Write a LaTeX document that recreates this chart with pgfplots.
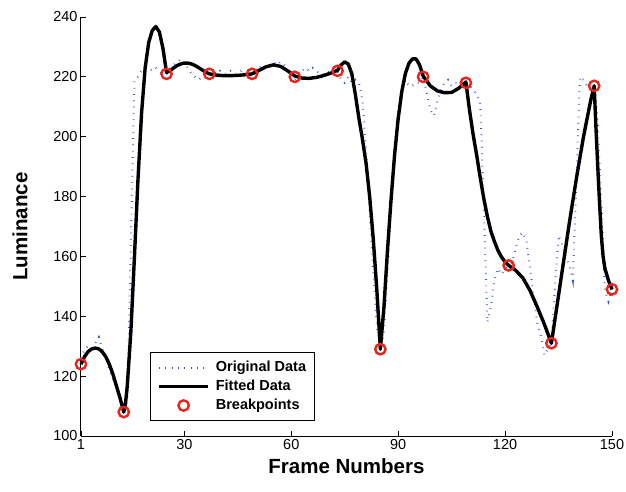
\documentclass[border=0pt]{standalone}
\usepackage{fontspec}
\setmainfont{Liberation Sans}
\usepackage{pgfplots}
\pgfplotsset{compat=1.18}

\definecolor{origblue}{RGB}{60,80,205}
\definecolor{bpred}{RGB}{228,38,30}

\pgfplotsset{
    linelegend/.style={legend image code/.code={\draw[##1] (0pt,0pt) -- (49pt,0pt);}},
    marklegend/.style={legend image code/.code={\path (0pt,0pt) (49pt,0pt); \draw[##1] plot coordinates {(24.5pt,0pt)};}},
}

\begin{document}
\begin{tikzpicture}
\useasboundingbox (0,0) rectangle (626pt,491pt);
\begin{axis}[
    at={(81pt,55pt)}, anchor=south west,
    scale only axis,
    width=531pt, height=419pt,
    xmin=1, xmax=150,
    ymin=100, ymax=240,
    axis lines=left,
    axis line style={-, line width=1pt, black},
    tick align=inside,
    major tick length=5pt,
    tick style={line width=0.8pt, black},
    xtick={1,30,60,90,120,150},
    ytick={100,120,...,240},
    /pgf/number format/assume math mode=true,
    tick label style={font=\fontsize{14.5}{17}\selectfont},
    xlabel={Frame Numbers},
    ylabel={Luminance},
    label style={font=\bfseries\fontsize{20.5}{24}\selectfont},
    xlabel style={at={(axis description cs:0.5,-0.045)}, anchor=north},
    ylabel style={at={(axis description cs:-0.094,0.5)}, anchor=south},
    clip=false,
    legend cell align=left,
    legend style={
        at={(axis description cs:0.13,0.036)}, anchor=south west,
        draw=black, line width=0.8pt,
        font=\bfseries\fontsize{14.5}{17}\selectfont,
        inner xsep=7pt, inner ysep=7pt,
        row sep=3pt,
        nodes={inner sep=1pt, text height=11pt, text depth=3pt},
        /tikz/every odd column/.append style={column sep=5pt},
    },
]

% --- original data (dotted) ---
\addplot[
    color=origblue,
    line width=2pt,
    dash pattern=on 0.7pt off 5.6pt,
    linelegend
] coordinates {
(1,126) (2,129) (3,130) (4,128) (5,131) (6,133) (7,129) (8,126) (9,122) (10,119)
(11,116) (12,112) (13,108) (14,112) (15,165) (16,219) (17,220) (18,222) (19,223) (20,223)
(21,222) (22,223) (23,222) (24,221) (25,221) (26,223) (27,224) (28,225) (29,226) (30,224)
(31,223) (32,221) (33,220) (34,219) (35,220) (36,221) (37,221) (38,222) (39,221) (40,222)
(41,221) (42,221) (43,222) (44,221) (45,221) (46,222) (47,221) (48,220) (49,221) (50,222)
(51,223) (52,224) (53,223) (54,224) (55,225) (56,224) (57,225) (58,224) (59,222) (60,220)
(61,219) (62,220) (63,222) (64,223) (65,222) (66,223) (67,222) (68,221) (69,221) (70,222)
(71,221) (72,222) (73,222) (74,219) (75,218) (76,220) (77,218) (78,219) (79,218) (80,212)
(81,195) (82,175) (83,155) (84,137) (85,129) (86,134) (87,155) (88,178) (89,197) (90,209)
(91,215) (92,219) (93,217) (94,217) (95,218) (96,218) (97,220) (98,215) (99,209) (100,207)
(101,212) (102,216) (103,218) (104,219) (105,217) (106,218) (107,218) (108,217) (109,218) (110,217)
(111,216) (112,214) (113,212) (114,178) (115,138) (116,143) (117,152) (118,156) (119,154) (120,156)
(121,157) (122,158) (123,163) (124,167) (125,168) (126,165) (127,156) (128,147) (129,138) (130,134)
(131,127) (132,129) (133,131) (134,150) (135,167) (136,164) (137,160) (138,157) (139,152) (140,185)
(141,220) (142,219) (143,217) (144,218) (145,217) (146,205) (147,178) (148,149) (149,145) (150,149)
};
\addlegendentry{Original Data}

% --- fitted curve ---
\addplot[
    black,
    line width=3.4pt,
    line join=round,
    linelegend
] coordinates {
(1,124) (2,126.5) (3,128.2) (4,129.1) (5,129.4) (6,129.1) (7,128.1) (8,126.4) (9,123.8) (10,120.5)
(11,116.5) (12,112.5) (13,108) (13.5,111) (14,117) (15,135) (16,160) (17,186) (18,208) (19,223)
(20,231.5) (21,235.5) (22,236.8) (23,235) (24,229.5) (25,221.5) (26,222) (27,223) (28,223.8) (29,224.3)
(30,224.6) (31,224.6) (32,224.3) (33,223.8) (34,223.1) (35,222.3) (36,221.6) (37,221) (39,220.6) (41,220.4)
(43,220.4) (45,220.5) (47,220.7) (49,221) (51,222.2) (53,223.4) (55,224) (57,223.5) (59,222) (61,220.3)
(63,219.6) (65,219.5) (67,219.8) (69,220.4) (71,221.2) (73,222.2) (74,224) (75,225) (76,224.3) (77,221)
(78,214) (79,206) (80,199) (81,191) (82,180) (83,166) (84,149) (85,129) (86,143) (87,162)
(88,179) (89,194) (90,206) (91,215) (92,221) (93,224.5) (94,226) (95,226) (96,224) (97,220.3)
(99,217) (101,215.3) (103,214.7) (105,214.8) (107,216.2) (109,218.3) (110,209) (111,201) (112,194) (113,186.5)
(114,179.5) (115,173.5) (116,168.5) (117,165) (118,162) (119,159.8) (120,158.2) (121,157) (123,155.3) (125,152.8)
(127,148.6) (129,143.2) (131,137.4) (133,131) (134,139) (135,147) (136,155) (137,163) (138,171) (139,178.5)
(140,186) (141,193) (142,200) (143,206) (144,212) (145,217) (145.5,203) (146,190) (146.5,178) (147,167)
(147.5,160) (148,156) (149,152) (150,149)
};
\addlegendentry{Fitted Data}

% --- breakpoints ---
\addplot[
    only marks,
    mark=o,
    mark size=5.2pt,
    color=bpred,
    mark options={line width=2.4pt},
    marklegend
] coordinates {
(1,124) (13,108) (25,221) (37,221) (49,221) (61,220) (73,222)
(85,129) (97,220) (109,218) (121,157) (133,131) (145,217) (150,149)
};
\addlegendentry{Breakpoints}

\end{axis}
\end{tikzpicture}
\end{document}
